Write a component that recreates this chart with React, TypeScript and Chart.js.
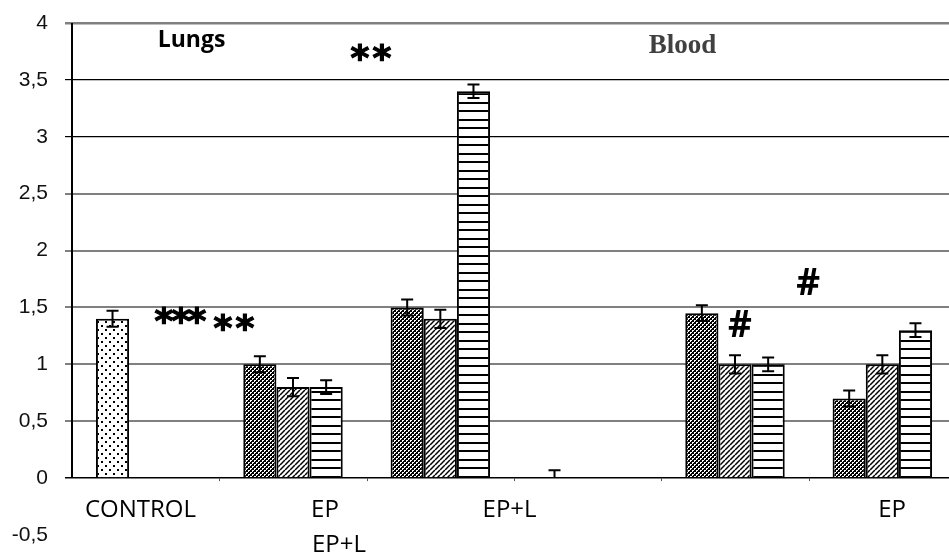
import { useEffect, useRef } from 'react';
import { Chart, registerables } from 'chart.js';

Chart.register(...registerables);

// ---------- data ----------
const categories = ['CONTROL', 'EP', 'EP+L', 'blank', 'EP (blood)', 'EP+L (blood)'];
const seriesA = [1.4, 1.0, 1.5, 0, 1.45, 0.7];
const seriesB = [null, 0.8, 1.4, null, 1.0, 1.0];
const seriesC = [null, 0.8, 3.4, null, 1.0, 1.3];
const errAUp = [0.07, 0.07, 0.07, 0.07, 0.07, 0.07];
const errADown = [0.07, 0.07, 0.07, 0, 0.07, 0.07];
const errB = [null, 0.08, 0.08, null, 0.08, 0.08];
const errC = [null, 0.06, 0.06, null, 0.06, 0.06];
const yMin = -0.5;
const yMax = 4;
const yStep = 0.5;

// text labels: [text, category position (from left edge, in category units), value]
const axisLabels: [string, number, number][] = [
  ['CONTROL', 0.465, -0.264],
  ['EP', 1.717, -0.264],
  ['EP+L', 1.812, -0.571],
  ['EP+L', 2.97, -0.264],
  ['EP', 5.566, -0.264],
];
const STAR = 'bold 36px "DejaVu Sans"';
const HASH = 'bold 37px "Open Sans"';
// [text, category position, value, font, colour, outline width]
const notes: [string, number, number, string, string, number][] = [
  ['Lungs', 0.811, 3.836, 'bold 23px "Open Sans"', '#000', 0],
  ['Blood', 4.144, 3.824, 'bold 27px "Liberation Serif"', '#404040', 0],
  ['*', 1.955, 3.745, STAR, '#000', 1.2],
  ['*', 2.104, 3.745, STAR, '#000', 1.2],
  ['*', 0.624, 1.433, STAR, '#000', 1.2],
  ['*', 0.74, 1.433, STAR, '#000', 1.2],
  ['*', 0.848, 1.433, STAR, '#000', 1.2],
  ['*', 1.025, 1.371, STAR, '#000', 1.2],
  ['*', 1.174, 1.371, STAR, '#000', 1.2],
  ['#', 4.996, 1.732, HASH, '#000', 0],
  ['#', 4.534, 1.363, HASH, '#000', 0],
];

function makePattern(w: number, h: number, draw: (g: CanvasRenderingContext2D) => void) {
  const c = document.createElement('canvas');
  c.width = w;
  c.height = h;
  const g = c.getContext('2d')!;
  draw(g);
  return g.createPattern(c, 'repeat')!;
}

function drawCentered(ctx: CanvasRenderingContext2D, t: string, cx: number, cy: number, outline = 0) {
  ctx.textAlign = 'center';
  ctx.textBaseline = 'alphabetic';
  const m = ctx.measureText(t);
  const a = m.actualBoundingBoxAscent;
  const d = m.actualBoundingBoxDescent;
  const yy = cy + (a - d) / 2;
  ctx.fillText(t, cx, yy);
  if (outline > 0) {
    ctx.lineWidth = outline;
    ctx.strokeStyle = ctx.fillStyle as string;
    ctx.strokeText(t, cx, yy);
  }
}

export default function App() {
  const ref = useRef<HTMLCanvasElement>(null);

  useEffect(() => {
    document.body.style.margin = '0';
    const canvas = ref.current!;

    const dots = makePattern(8, 8, (g) => {
      g.fillStyle = '#fff';
      g.fillRect(0, 0, 8, 8);
      g.fillStyle = '#000';
      g.fillRect(1, 1, 2, 2);
      g.fillRect(5, 5, 2, 2);
    });
    const cross = makePattern(4, 4, (g) => {
      g.fillStyle = '#fff';
      g.fillRect(0, 0, 4, 4);
      g.fillStyle = '#000';
      for (let x = 0; x < 4; x++)
        for (let y = 0; y < 4; y++)
          if ((x + y) % 4 < 2 || (x - y + 8) % 4 < 1) g.fillRect(x, y, 1, 1);
    });
    const diag = makePattern(5, 5, (g) => {
      g.fillStyle = '#fff';
      g.fillRect(0, 0, 5, 5);
      g.strokeStyle = '#000';
      g.lineWidth = 1.5;
      for (const x0 of [-5, 0, 5]) {
        g.beginPath();
        g.moveTo(x0, 5);
        g.lineTo(x0 + 5, 0);
        g.stroke();
      }
    });
    const horiz = makePattern(4, 17, (g) => {
      g.fillStyle = '#fff';
      g.fillRect(0, 0, 4, 17);
      g.fillStyle = '#000';
      g.fillRect(0, 0, 4, 2);
      g.fillRect(0, 8, 4, 2);
    });

    const errors = [
      { up: errAUp, down: errADown },
      { up: errB, down: errB },
      { up: errC, down: errC },
    ];

    const overlay = {
      id: 'overlay',
      beforeDatasetsDraw(chart: any) {
        const { ctx, chartArea } = chart;
        const y = chart.scales.y;
        ctx.save();
        ctx.strokeStyle = '#000';
        ctx.lineWidth = 2;
        ctx.beginPath();
        ctx.moveTo(chartArea.left, y.getPixelForValue(yMax));
        ctx.lineTo(chartArea.left, y.getPixelForValue(0));
        ctx.stroke();
        const x = chart.scales.x;
        const n = categories.length;
        const w = (x.right - x.left) / n;
        const y0 = y.getPixelForValue(0);
        ctx.strokeStyle = '#555';
        ctx.lineWidth = 1;
        for (let i = 1; i < n; i++) {
          const px = Math.round(x.left + i * w) + 0.5;
          ctx.beginPath();
          ctx.moveTo(px, y0);
          ctx.lineTo(px, y0 + 3);
          ctx.stroke();
        }
        ctx.restore();
      },
      afterDatasetsDraw(chart: any) {
        const { ctx } = chart;
        const y = chart.scales.y;
        const x = chart.scales.x;
        const n = categories.length;
        const w = (x.right - x.left) / n;
        ctx.save();
        ctx.strokeStyle = '#000';
        ctx.lineWidth = 2;
        chart.data.datasets.forEach((ds: any, d: number) => {
          const meta = chart.getDatasetMeta(d);
          ds.data.forEach((v: number | null, i: number) => {
            if (v === null) return;
            const up = errors[d].up[i];
            const down = errors[d].down[i];
            if (up === null) return;
            const el = meta.data[i];
            const px = el.x;
            const yt = y.getPixelForValue(v + up);
            const yb = y.getPixelForValue(v - (down || 0));
            ctx.beginPath();
            ctx.moveTo(px, yt);
            ctx.lineTo(px, yb);
            ctx.moveTo(px - 6, yt);
            ctx.lineTo(px + 6, yt);
            if (down) {
              ctx.moveTo(px - 6, yb);
              ctx.lineTo(px + 6, yb);
            }
            ctx.stroke();
          });
        });
        ctx.fillStyle = '#000';
        ctx.font = '24px "Open Sans"';
        axisLabels.forEach(([t, c, v]) => {
          drawCentered(ctx, t, x.left + c * w, y.getPixelForValue(v));
        });
        notes.forEach(([t, c, v, font, color, outline]) => {
          ctx.font = font;
          ctx.fillStyle = color;
          drawCentered(ctx, t, x.left + c * w, y.getPixelForValue(v), outline);
        });
        ctx.restore();
      },
    };

    const chart = new Chart(canvas, {
      type: 'bar',
      data: {
        labels: categories,
        datasets: [
          {
            data: seriesA as any,
            backgroundColor: (c: any) => (c.dataIndex === 0 ? dots : cross),
            borderColor: '#000',
            borderWidth: (c: any) => (c.raw === 0 ? 0 : 2),
          },
          { data: seriesB as any, backgroundColor: diag, borderColor: '#000', borderWidth: 2 },
          { data: seriesC as any, backgroundColor: horiz, borderColor: '#000', borderWidth: 2 },
        ],
      },
      options: {
        responsive: false,
        animation: false,
        layout: { padding: { left: 0, top: 23, right: 4, bottom: 22 } },
        plugins: { legend: { display: false }, title: { display: false }, tooltip: { enabled: false } },
        datasets: { bar: { categoryPercentage: 0.675, barPercentage: 1.0, borderSkipped: 'start' } } as any,
        scales: {
          x: { display: false, grid: { display: false } },
          y: {
            min: yMin,
            max: yMax,
            afterFit: (s: any) => {
              s.width = 72;
              s.paddingTop = 0;
              s.paddingBottom = 0;
            },
            ticks: {
              stepSize: yStep,
              padding: 17,
              color: '#111',
              font: { family: '"Liberation Sans", Arial', size: 21 },
              callback: (v: any) => String(v).replace('.', ','),
            },
            border: { display: false },
            grid: {
              tickLength: 7,
              color: (c: any) => {
                const v = c.tick?.value;
                if (v === yMin) return 'rgba(0,0,0,0)';
                if (v === 0 || v === 3 || v === 3.5) return '#000';
                return '#808080';
              },
              lineWidth: (c: any) => {
                const v = c.tick?.value;
                if (v === yMax) return 2.5;
                if (v === 3 || v === 3.5) return 1.2;
                if (v === 0) return 1.5;
                return 2;
              },
            },
          },
        },
      },
      plugins: [overlay],
    });
    return () => chart.destroy();
  }, []);

  return (
    <div style={{ width: 949, height: 557, overflow: 'hidden', background: '#fff' }}>
      <canvas ref={ref} width={960} height={557} style={{ display: 'block' }} />
    </div>
  );
}
